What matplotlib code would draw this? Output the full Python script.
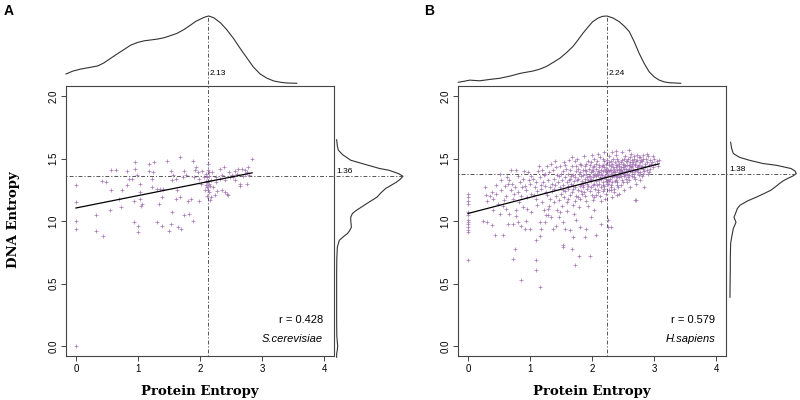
'''
DNA entropy vs protein entropy, S.cerevisiae (A) and H.sapiens (B)
with marginal densities
'''
import numpy as np
import matplotlib
matplotlib.use('Agg')
import matplotlib.pyplot as plt

## DATA

## panel A, S.cerevisiae : (protein entropy, DNA entropy)
a_pts = [(0.00, 1.29), (0.00, 1.15), (0.00, 1.00), (0.00, 0.94), (0.00, 0.00),
         (0.32, 1.05), (0.33, 0.92), (0.44, 0.88), (0.42, 1.32), (0.49, 1.31), (0.56, 1.41),
         (0.65, 1.41), (0.57, 1.25), (0.55, 1.09), (0.72, 1.11), (0.74, 1.25), (0.69, 1.18),
         (0.83, 1.40), (0.86, 1.34), (0.90, 1.34), (0.82, 1.29), (0.95, 1.47), (0.95, 1.42),
         (0.99, 1.37), (1.03, 1.30), (0.94, 1.16), (0.93, 0.99), (1.00, 0.96), (1.00, 0.91),
         (1.04, 1.23), (1.04, 1.18), (1.06, 1.14), (1.05, 1.12), (1.17, 1.40), (1.18, 1.46),
         (1.26, 1.47), (1.24, 1.39), (1.22, 1.34), (1.23, 1.27), (1.30, 1.26), (1.35, 1.26),
         (1.41, 1.26), (1.31, 0.99), (1.34, 1.14), (1.38, 1.19), (1.39, 0.96), (1.46, 1.48),
         (1.50, 0.92), (1.53, 1.40), (1.56, 1.37), (1.61, 1.34), (1.55, 1.33), (1.55, 1.07),
         (1.54, 0.98), (1.64, 0.95), (1.69, 0.94), (1.67, 1.51), (1.63, 1.25), (1.62, 1.18),
         (1.68, 1.19), (1.74, 1.40), (1.77, 1.37), (1.73, 1.35), (1.81, 1.16), (1.85, 1.18),
         (1.74, 1.05), (1.82, 1.06), (1.89, 1.48), (1.88, 1.00), (1.92, 1.41), (1.97, 1.39),
         (1.99, 1.34), (1.90, 1.35), (1.93, 1.43), (2.04, 1.40), (2.06, 1.35), (2.09, 1.32),
         (2.10, 1.29), (2.12, 1.27), (2.13, 1.25), (2.15, 1.23), (2.17, 1.33), (2.15, 1.39),
         (2.13, 1.41), (2.10, 1.38), (2.17, 1.19), (2.16, 1.17), (2.13, 1.46), (2.14, 1.36),
         (2.12, 1.31), (2.11, 1.35), (2.14, 1.30), (2.16, 1.28), (2.08, 1.25), (2.12, 1.20),
         (2.21, 1.27), (2.24, 1.21), (2.26, 1.31), (2.20, 1.39), (2.25, 1.35), (2.32, 1.42),
         (2.33, 1.34), (2.36, 1.25), (2.40, 1.23), (2.43, 1.22), (2.45, 1.21), (2.46, 1.39),
         (2.51, 1.37), (2.53, 1.35), (2.56, 1.40), (2.61, 1.42), (2.64, 1.28), (2.68, 1.42),
         (2.72, 1.41), (2.75, 1.30), (2.77, 1.43), (2.79, 1.37), (2.84, 1.50), (2.38, 1.43),
         (2.41, 1.33), (2.49, 1.35), (2.57, 1.33), (2.60, 1.38), (2.65, 1.30), (2.70, 1.36),
         (2.73, 1.38), (2.76, 1.39), (2.35, 1.37), (2.28, 1.24), (1.98, 1.16), (2.01, 1.30)]

## panel B, H.sapiens
b_pts = [(0.00, 1.22), (0.00, 1.19), (0.00, 1.16), (0.00, 1.14), (0.00, 1.07), (0.00, 1.05),
         (0.00, 1.01), (0.00, 0.99), (0.00, 0.98), (0.00, 0.95), (0.00, 0.93), (0.00, 0.91),
         (0.00, 0.69),
         (0.27, 1.27), (0.29, 1.21), (0.30, 1.16), (0.35, 1.20), (0.38, 1.23), (0.41, 1.18),
         (0.45, 1.29), (0.46, 1.22), (0.49, 1.14), (0.53, 1.33), (0.54, 1.25), (0.57, 1.12),
         (0.59, 1.28), (0.62, 1.20), (0.65, 1.30), (0.67, 1.33), (0.69, 1.41), (0.70, 1.25),
         (0.73, 1.18), (0.76, 1.27), (0.78, 1.41), (0.81, 1.23), (0.84, 1.31), (0.86, 1.20),
         (0.89, 1.34), (0.92, 1.28), (0.94, 1.25), (0.97, 1.39), (1.00, 1.30), (1.02, 1.22),
         (1.05, 1.34), (1.08, 1.27), (1.10, 1.18), (1.13, 1.40), (1.16, 1.35), (1.18, 1.26),
         (1.21, 1.31), (1.24, 1.38), (1.26, 1.23),
         (0.52, 1.38), (0.58, 1.17), (0.63, 1.35), (0.71, 1.30), (0.74, 1.22), (0.80, 1.36),
         (0.83, 1.15), (0.87, 1.27), (0.91, 1.40), (0.96, 1.19), (0.99, 1.33), (0.77, 1.04),
         (0.95, 1.10), (1.02, 1.36), (1.06, 1.21), (1.09, 1.31), (1.12, 1.24), (1.14, 1.44),
         (1.17, 1.29), (1.20, 1.15), (1.22, 1.37), (1.25, 1.28), (1.11, 1.13), (1.19, 1.41),
         (1.23, 1.09),
         (0.25, 1.00), (0.30, 0.99), (0.38, 0.97), (0.43, 0.89), (0.57, 0.89), (0.65, 0.98),
         (0.73, 0.98), (0.81, 0.99), (0.86, 0.96), (0.92, 0.94), (0.94, 1.00), (1.00, 0.94),
         (1.02, 1.07), (1.10, 0.85), (1.16, 0.99), (1.18, 0.94), (1.24, 0.99), (1.26, 1.05),
         (0.76, 0.78), (0.73, 0.70), (1.10, 0.69), (1.10, 0.61), (0.86, 0.53), (1.16, 0.47),
         (0.62, 1.10), (0.67, 1.06), (0.78, 1.09), (0.89, 1.11), (0.51, 1.06), (0.41, 1.09),
         (1.16, 0.88), (1.53, 0.81), (1.54, 0.79), (1.67, 0.78), (1.73, 0.65), (1.79, 0.72),
         (1.97, 0.72), (2.25, 0.95), (2.70, 1.17), (2.84, 1.27),
         (1.29, 1.10), (1.34, 1.03), (1.48, 1.07), (1.53, 0.99), (1.56, 0.94), (1.64, 0.93),
         (1.74, 1.01), (1.80, 0.95), (1.91, 0.94), (1.99, 1.03), (2.04, 1.09), (2.07, 0.89),
         (2.15, 0.98), (2.26, 1.01), (1.88, 0.87), (1.69, 0.87), (1.42, 0.96), (1.37, 0.94),
         (2.31, 0.95), (2.71, 1.17), (2.41, 1.21), (2.31, 1.25),
         (1.27, 1.44), (1.28, 1.21), (1.29, 1.33), (1.30, 1.12), (1.31, 1.39), (1.32, 1.27),
         (1.33, 1.18), (1.34, 1.46), (1.35, 1.30), (1.29, 1.05),
         (1.36, 1.24), (1.37, 1.41), (1.38, 1.15), (1.39, 1.34), (1.40, 1.29), (1.41, 1.48),
         (1.42, 1.20), (1.43, 1.37), (1.44, 1.09), (1.45, 1.31), (1.38, 1.26), (1.42, 1.43),
         (1.46, 1.17), (1.47, 1.36), (1.48, 1.27), (1.49, 1.44), (1.50, 1.22), (1.51, 1.33),
         (1.52, 1.12), (1.53, 1.40), (1.54, 1.29), (1.55, 1.47), (1.47, 1.03), (1.50, 1.38),
         (1.53, 1.25), (1.55, 1.19),
         (1.56, 1.35), (1.57, 1.24), (1.58, 1.42), (1.59, 1.31), (1.60, 1.15), (1.61, 1.38),
         (1.62, 1.28), (1.63, 1.49), (1.64, 1.21), (1.65, 1.34), (1.57, 1.45), (1.59, 1.08),
         (1.61, 1.26), (1.63, 1.33), (1.65, 1.41), (1.62, 1.18),
         (1.66, 1.30), (1.67, 1.44), (1.68, 1.23), (1.69, 1.37), (1.70, 1.13), (1.71, 1.32),
         (1.72, 1.48), (1.73, 1.27), (1.74, 1.40), (1.75, 1.20), (1.66, 1.36), (1.68, 1.51),
         (1.70, 1.29), (1.72, 1.35), (1.73, 1.16), (1.74, 1.44), (1.69, 1.26), (1.71, 1.06),
         (1.76, 1.33), (1.77, 1.42), (1.78, 1.25), (1.79, 1.38), (1.80, 1.18), (1.81, 1.46),
         (1.82, 1.30), (1.83, 1.36), (1.84, 1.22), (1.85, 1.41), (1.76, 1.50), (1.78, 1.34),
         (1.79, 1.11), (1.80, 1.28), (1.81, 1.39), (1.82, 1.24), (1.83, 1.45), (1.84, 1.32),
         (1.77, 1.19), (1.85, 1.27),
         (1.86, 1.37), (1.87, 1.23), (1.88, 1.44), (1.89, 1.31), (1.90, 1.40), (1.91, 1.16),
         (1.92, 1.35), (1.93, 1.48), (1.94, 1.28), (1.95, 1.42), (1.86, 1.29), (1.87, 1.52),
         (1.88, 1.34), (1.89, 1.20), (1.90, 1.46), (1.91, 1.38), (1.92, 1.26), (1.93, 1.33),
         (1.94, 1.12), (1.95, 1.36), (1.88, 1.41), (1.92, 1.30),
         (1.96, 1.33), (1.97, 1.45), (1.98, 1.27), (1.99, 1.39), (2.00, 1.21), (2.01, 1.43),
         (2.02, 1.35), (2.03, 1.50), (2.04, 1.30), (2.05, 1.38), (1.96, 1.24), (1.97, 1.36),
         (1.98, 1.47), (1.99, 1.32), (2.00, 1.41), (2.01, 1.17), (2.02, 1.29), (2.03, 1.37),
         (2.04, 1.44), (2.05, 1.26), (1.98, 1.34), (2.00, 1.53), (2.02, 1.40), (2.04, 1.19),
         (2.06, 1.36), (2.07, 1.46), (2.08, 1.29), (2.09, 1.40), (2.10, 1.23), (2.11, 1.43),
         (2.12, 1.33), (2.13, 1.51), (2.14, 1.38), (2.15, 1.27), (2.06, 1.42), (2.07, 1.32),
         (2.08, 1.48), (2.09, 1.25), (2.10, 1.37), (2.11, 1.30), (2.12, 1.45), (2.13, 1.20),
         (2.14, 1.41), (2.15, 1.34), (2.08, 1.38), (2.10, 1.54), (2.12, 1.39), (2.14, 1.16),
         (2.07, 1.21), (2.13, 1.35),
         (2.16, 1.44), (2.17, 1.31), (2.18, 1.40), (2.19, 1.26), (2.20, 1.48), (2.21, 1.36),
         (2.22, 1.42), (2.23, 1.22), (2.24, 1.38), (2.25, 1.33), (2.16, 1.37), (2.17, 1.50),
         (2.18, 1.29), (2.19, 1.43), (2.20, 1.35), (2.21, 1.18), (2.22, 1.39), (2.23, 1.46),
         (2.24, 1.30), (2.25, 1.41), (2.17, 1.24), (2.19, 1.55), (2.21, 1.41), (2.23, 1.34),
         (2.18, 1.45), (2.20, 1.28), (2.22, 1.32), (2.24, 1.49),
         (2.26, 1.37), (2.27, 1.45), (2.28, 1.32), (2.29, 1.41), (2.30, 1.27), (2.31, 1.48),
         (2.32, 1.38), (2.33, 1.35), (2.34, 1.43), (2.35, 1.23), (2.26, 1.30), (2.27, 1.52),
         (2.28, 1.40), (2.29, 1.34), (2.30, 1.44), (2.31, 1.29), (2.32, 1.46), (2.33, 1.19),
         (2.34, 1.39), (2.35, 1.36), (2.28, 1.47), (2.30, 1.38), (2.32, 1.31), (2.34, 1.50),
         (2.27, 1.25), (2.31, 1.41), (2.33, 1.55), (2.35, 1.42),
         (2.36, 1.40), (2.37, 1.47), (2.38, 1.33), (2.39, 1.43), (2.40, 1.29), (2.41, 1.50),
         (2.42, 1.37), (2.43, 1.44), (2.44, 1.35), (2.45, 1.41), (2.36, 1.26), (2.37, 1.39),
         (2.38, 1.53), (2.39, 1.36), (2.40, 1.45), (2.41, 1.31), (2.42, 1.48), (2.43, 1.22),
         (2.44, 1.42), (2.45, 1.38), (2.37, 1.32), (2.39, 1.56), (2.41, 1.41), (2.43, 1.39),
         (2.38, 1.45), (2.40, 1.35), (2.42, 1.27), (2.44, 1.46),
         (2.46, 1.43), (2.47, 1.36), (2.48, 1.49), (2.49, 1.40), (2.50, 1.31), (2.51, 1.45),
         (2.52, 1.38), (2.53, 1.52), (2.54, 1.34), (2.55, 1.42), (2.46, 1.29), (2.47, 1.47),
         (2.48, 1.39), (2.49, 1.55), (2.50, 1.43), (2.51, 1.36), (2.52, 1.25), (2.53, 1.44),
         (2.54, 1.40), (2.55, 1.48), (2.47, 1.41), (2.49, 1.33), (2.51, 1.50), (2.53, 1.37),
         (2.50, 1.46), (2.52, 1.42),
         (2.56, 1.45), (2.57, 1.38), (2.58, 1.50), (2.59, 1.42), (2.60, 1.33), (2.61, 1.47),
         (2.62, 1.40), (2.63, 1.54), (2.64, 1.36), (2.65, 1.44), (2.56, 1.31), (2.57, 1.48),
         (2.58, 1.41), (2.59, 1.37), (2.60, 1.45), (2.61, 1.27), (2.62, 1.51), (2.63, 1.43),
         (2.64, 1.39), (2.65, 1.49), (2.58, 1.35), (2.60, 1.57), (2.62, 1.44), (2.64, 1.46),
         (2.66, 1.42), (2.67, 1.50), (2.68, 1.38), (2.69, 1.46), (2.70, 1.34), (2.71, 1.48),
         (2.72, 1.41), (2.73, 1.53), (2.74, 1.44), (2.75, 1.37), (2.66, 1.47), (2.67, 1.35),
         (2.68, 1.52), (2.69, 1.40), (2.70, 1.45), (2.71, 1.30), (2.72, 1.49), (2.73, 1.43),
         (2.74, 1.39), (2.75, 1.51),
         (2.76, 1.45), (2.77, 1.39), (2.78, 1.51), (2.79, 1.43), (2.80, 1.36), (2.81, 1.48),
         (2.82, 1.42), (2.83, 1.53), (2.84, 1.40), (2.85, 1.46), (2.77, 1.33), (2.79, 1.49),
         (2.81, 1.44), (2.83, 1.38), (2.78, 1.47), (2.82, 1.50),
         (2.86, 1.44), (2.87, 1.50), (2.88, 1.41), (2.89, 1.47), (2.90, 1.38), (2.91, 1.52),
         (2.92, 1.45), (2.93, 1.42), (2.94, 1.49), (2.95, 1.46), (2.88, 1.54), (2.92, 1.39),
         (2.96, 1.47), (2.98, 1.43), (3.00, 1.50), (3.02, 1.46), (3.04, 1.48), (3.06, 1.44),
         (3.08, 1.49), (2.99, 1.52)]

## regression lines (intercept, slope), medians, r
a_fit = (1.104, 0.099)
b_fit = (1.060, 0.129)
a_med_x, a_med_y = 2.13, 1.36
b_med_x, b_med_y = 2.24, 1.38
a_r, b_r = 0.428, 0.579
a_species, b_species = 'S.cerevisiae', 'H.sapiens'

## marginal densities, scaled so the peak is 1
a_top_x = [-0.16, -0.05, 0.08, 0.20, 0.35, 0.45, 0.56, 0.67, 0.78, 0.88, 0.99, 1.10, 1.20,
           1.31, 1.42, 1.52, 1.63, 1.74, 1.85, 1.93, 2.01, 2.08, 2.14, 2.22, 2.33, 2.43,
           2.54, 2.65, 2.76, 2.86, 2.97, 3.08, 3.19, 3.30, 3.40, 3.56]
a_top_h = [0.147, 0.19, 0.22, 0.24, 0.265, 0.31, 0.378, 0.445, 0.51, 0.57, 0.61, 0.635, 0.647,
           0.66, 0.68, 0.71, 0.745, 0.80, 0.868, 0.92, 0.956, 0.985, 1.0, 0.975, 0.90, 0.80,
           0.67, 0.52, 0.378, 0.25, 0.147, 0.085, 0.044, 0.025, 0.015, 0.01]
a_side_y = [1.65, 1.60, 1.566, 1.53, 1.486, 1.446, 1.42, 1.406, 1.38, 1.358, 1.335, 1.31,
            1.285, 1.26, 1.225, 1.19, 1.15, 1.11, 1.08, 1.06, 1.03, 1.006, 0.975, 0.95,
            0.92, 0.90, 0.87, 0.846, 0.79, 0.70, 0.60, 0.40, 0.20, 0.08, 0.03, 0.0, -0.03,
            -0.06, -0.09]
a_side_h = [0.01, 0.02, 0.036, 0.10, 0.22, 0.48, 0.65, 0.79, 0.93, 1.0, 0.96, 0.90,
            0.82, 0.74, 0.67, 0.61, 0.49, 0.375, 0.29, 0.245, 0.22, 0.22, 0.225, 0.23,
            0.20, 0.17, 0.10, 0.05, 0.02, 0.012, 0.01, 0.01, 0.01, 0.012, 0.02, 0.025, 0.02,
            0.01, 0.01]

b_top_x = [-0.155, -0.05, 0.03, 0.19, 0.35, 0.51, 0.68, 0.84, 1.05, 1.15, 1.26, 1.37, 1.48,
           1.58, 1.69, 1.77, 1.85, 1.93, 2.01, 2.10, 2.17, 2.24, 2.34, 2.44, 2.52, 2.60,
           2.68, 2.76, 2.84, 2.92, 3.00, 3.08, 3.16, 3.24, 3.43]
b_top_h = [0.018, 0.035, 0.05, 0.04, 0.06, 0.077, 0.11, 0.15, 0.185, 0.21, 0.25, 0.31, 0.373,
           0.45, 0.545, 0.64, 0.74, 0.83, 0.915, 0.97, 0.995, 1.0, 0.97, 0.915, 0.85, 0.77,
           0.62, 0.447, 0.30, 0.175, 0.10, 0.052, 0.025, 0.012, 0.003]
b_side_y = [1.63, 1.58, 1.54, 1.51, 1.486, 1.46, 1.446, 1.42, 1.40, 1.38, 1.36, 1.34, 1.32,
            1.30, 1.27, 1.246, 1.22, 1.19, 1.16, 1.126, 1.10, 1.07, 1.03, 0.99, 0.965,
            0.94, 0.87, 0.82, 0.70, 0.63, 0.50, 0.39]
b_side_h = [0.02, 0.035, 0.06, 0.15, 0.30, 0.50, 0.70, 0.92, 0.98, 1.0, 0.95, 0.87, 0.80,
            0.75, 0.68, 0.62, 0.52, 0.40, 0.27, 0.16, 0.12, 0.10, 0.07, 0.10, 0.08,
            0.06, 0.035, 0.02, 0.015, 0.015, 0.012, 0.01]


##
##  Making the plot
##
W, H = 800., 400.
fig = plt.figure(figsize=(8.0, 4.0), dpi=100)

pt_color  = '#a676b8'
ln_color  = '#333333'
ref_color = '#555555'
dashes    = (1.2, 2.0, 4.0, 2.0)
tick_font = dict(family='Liberation Sans', size=7)
lab_font  = dict(family='DejaVu Serif', weight='bold', size=9.5)
xmin = -0.16; xmax = 4.16; ymin = -0.08; ymax = 2.08

panels = [
    # pts, fit, med x, med y, r, species, top x, top h, side y, side h,
    # main left px, side left px, top baseline px, letter, letter px
    (a_pts, a_fit, a_med_x, a_med_y, a_r, a_species,
     a_top_x, a_top_h, a_side_y, a_side_h, 66., 336., 84., 'A', 4.),
    (b_pts, b_fit, b_med_x, b_med_y, b_r, b_species,
     b_top_x, b_top_h, b_side_y, b_side_h, 458., 729.3, 83.5, 'B', 424.),
]

for (pts, fit, mx, my, r, species, tx, th, sy, sh, left, side_left, top_base, letter, let_x) in panels:
    x = np.array([p[0] for p in pts])
    y = np.array([p[1] for p in pts])

    ## main scatter
    ax = fig.add_axes([left/W, 44/H, 268/W, 270/H])
    ax.scatter(x, y, marker='+', s=5, linewidths=0.5, color=pt_color, zorder=2)
    xf = np.array([x.min(), x.max()])
    ax.plot(xf, fit[0] + fit[1]*xf, color='k', lw=0.9, zorder=3)
    ax.axvline(mx, color=ref_color, lw=0.7, dashes=dashes, zorder=1)
    ax.axhline(my, color=ref_color, lw=0.7, dashes=dashes, zorder=1)
    ax.set_xlim((xmin, xmax))
    ax.set_ylim((ymin, ymax))
    ax.set_xticks([0, 1, 2, 3, 4])
    ax.set_yticks([0.0, 0.5, 1.0, 1.5, 2.0])
    ax.set_xticklabels(['0', '1', '2', '3', '4'], **tick_font)
    ax.set_yticklabels(['0.0', '0.5', '1.0', '1.5', '2.0'], rotation=90, va='center', **tick_font)
    ax.tick_params(direction='out', length=3.5, width=0.7, pad=2, color='#444444')
    for sp in ax.spines.values():
        sp.set_linewidth(0.8)
        sp.set_color('#444444')
    ax.text(0.96, 0.115, 'r = {:.3f}'.format(r), transform=ax.transAxes, ha='right',
            va='bottom', family='Liberation Sans', size=8)
    ax.text(0.96, 0.045, species, transform=ax.transAxes, ha='right', va='bottom',
            family='Liberation Sans', style='italic', size=8)
    fig.text((left + 134)/W, 0.0225, 'Protein Entropy', ha='center', va='center', **lab_font)

    ## top density
    axt = fig.add_axes([left/W, (H - top_base)/H, 268/W, (top_base - 16)/H])
    axt.plot(tx, th, color=ln_color, lw=0.8, clip_on=False)
    axt.plot([mx, mx], [-0.05, 1.0], color=ref_color, lw=0.7, dashes=dashes, clip_on=False)
    axt.text(mx + 0.03, 0.1, '{:.2f}'.format(mx), family='Liberation Sans', size=6,
             va='bottom', ha='left')
    axt.set_xlim((xmin, xmax))
    axt.set_ylim((0, 1))
    axt.axis('off')

    ## side density
    axs = fig.add_axes([side_left/W, 44/H, 67/W, 270/H])
    axs.plot(sh, sy, color=ln_color, lw=0.8, clip_on=False)
    axs.plot([-0.05, 1.0], [my, my], color=ref_color, lw=0.7, dashes=dashes, clip_on=False)
    axs.text(0.0, my + 0.005, '{:.2f}'.format(my), family='Liberation Sans', size=6,
             va='bottom', ha='left')
    axs.set_xlim((0, 1))
    axs.set_ylim((ymin, ymax))
    axs.axis('off')

    fig.text(let_x/W, 1 - 4/H, letter, family='Liberation Sans', weight='bold', size=10,
             ha='left', va='top')

fig.text(14/W, 0.45, 'DNA Entropy', rotation=90, ha='center', va='center', **lab_font)

plt.savefig('out.png', dpi=100)
plt.close(fig)
